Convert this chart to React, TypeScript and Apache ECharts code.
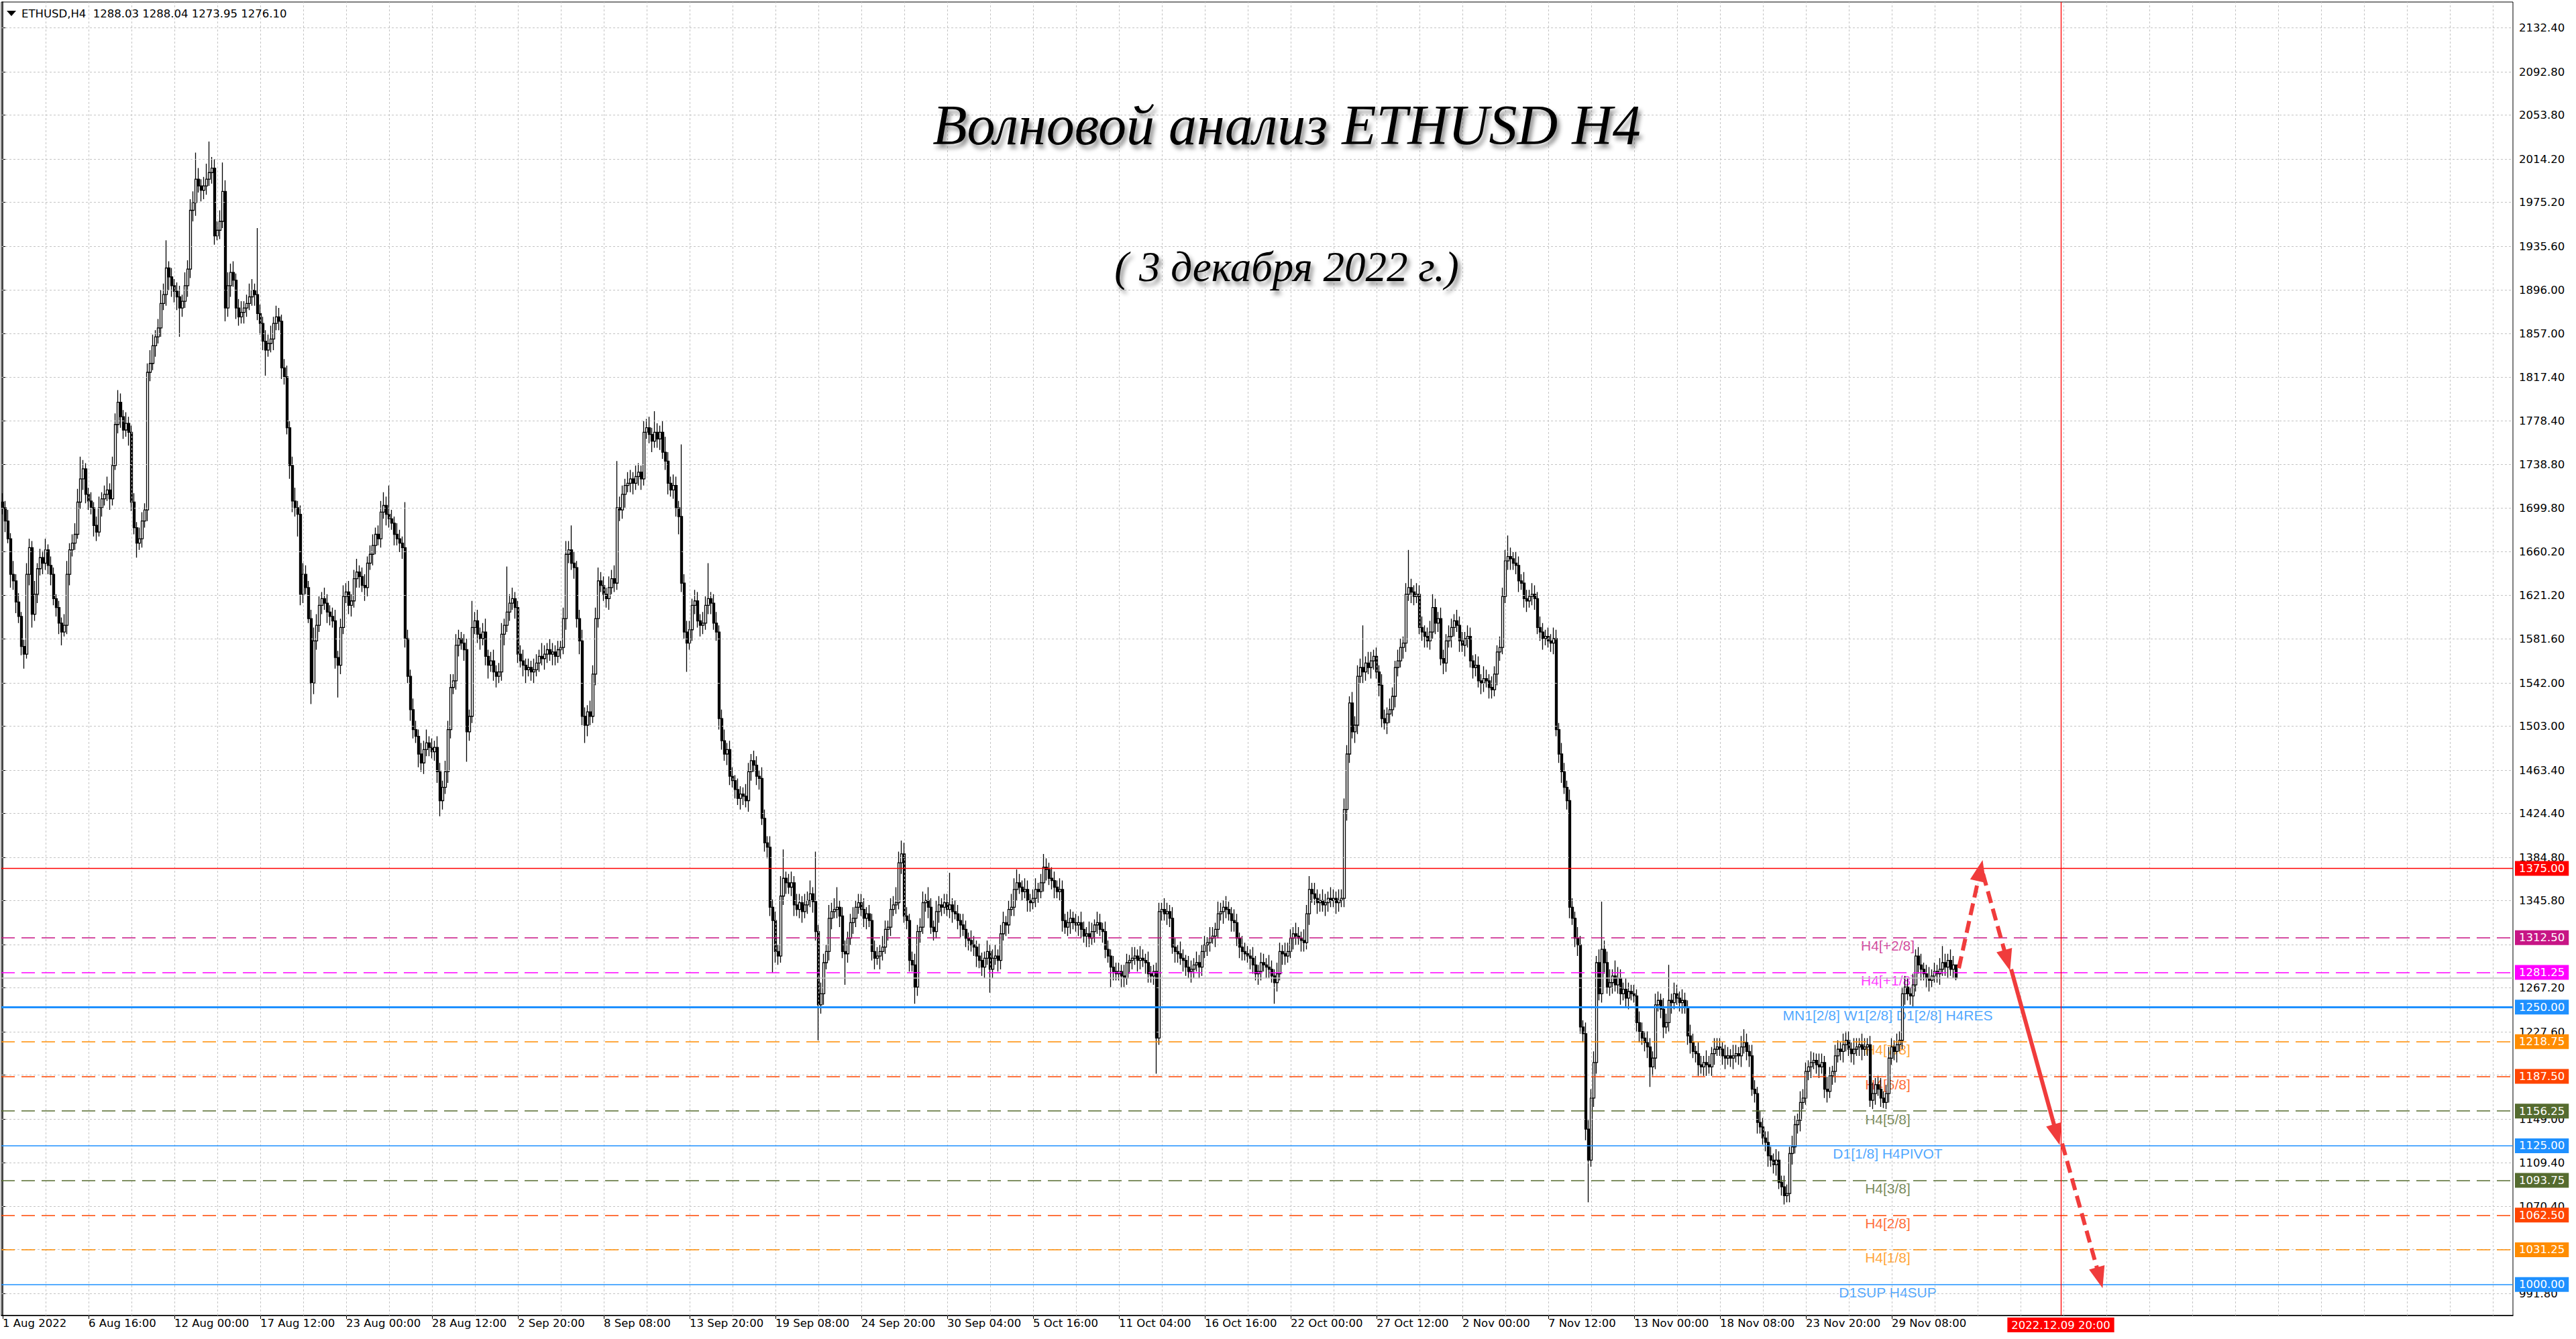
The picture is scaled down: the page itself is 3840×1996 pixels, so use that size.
import React, { useEffect, useRef } from 'react';
import * as echarts from 'echarts';

// ---------- DATA ----------
// One H4 bar per entry, starting 1 Aug 2022 00:00. Open of a bar = previous close.
const firstOpen = 1705;
const closes: number[] = [
  1700,1688,1672,1640,1634,1615,1602,1575,1568,1640,1664,1604,1622,1645,1655,1650,
  1662,1648,1640,1618,1610,1596,1588,1594,1640,1662,1668,1676,1705,1726,1735,1712,
  1706,1700,1684,1678,1700,1708,1712,1716,1708,1738,1775,1795,1782,1770,1776,1768,
  1705,1682,1668,1672,1688,1698,1822,1830,1846,1854,1862,1884,1892,1916,1908,1900,
  1895,1890,1880,1886,1900,1915,1968,1975,1996,1990,1986,1990,1996,2002,2006,1945,
  1950,1958,1985,1880,1900,1912,1905,1880,1872,1876,1880,1884,1890,1896,1892,1875,
  1866,1850,1842,1848,1852,1866,1872,1868,1826,1818,1772,1738,1706,1700,1694,1622,
  1640,1628,1600,1542,1580,1594,1612,1618,1614,1606,1602,1598,1565,1558,1592,1620,
  1624,1612,1616,1636,1642,1638,1630,1628,1650,1658,1666,1676,1672,1696,1702,1694,
  1690,1686,1676,1672,1668,1664,1582,1548,1518,1500,1494,1478,1470,1482,1488,1484,
  1480,1484,1462,1436,1448,1462,1500,1538,1544,1576,1582,1578,1572,1498,1512,1592,
  1598,1586,1582,1588,1566,1558,1562,1552,1548,1552,1586,1594,1606,1614,1618,1610,
  1568,1562,1558,1554,1556,1552,1554,1560,1566,1564,1568,1572,1568,1570,1566,1572,
  1574,1600,1658,1662,1650,1646,1600,1580,1512,1504,1516,1512,1550,1600,1634,1630,
  1622,1618,1628,1636,1632,1700,1698,1712,1720,1722,1726,1722,1728,1732,1726,1768,
  1772,1766,1760,1768,1762,1768,1750,1742,1722,1716,1720,1700,1692,1632,1588,1578,
  1590,1612,1616,1598,1594,1596,1612,1618,1614,1596,1588,1510,1490,1478,1482,1458,
  1454,1446,1438,1442,1440,1436,1462,1472,1468,1458,1456,1420,1398,1394,1340,1328,
  1300,1296,1350,1366,1362,1358,1362,1342,1338,1344,1336,1342,1346,1352,1345,1318,
  1252,1262,1290,1300,1330,1336,1338,1340,1332,1300,1298,1312,1326,1330,1340,1344,
  1338,1330,1334,1328,1300,1294,1296,1300,1304,1320,1322,1338,1342,1344,1380,1388,
  1332,1328,1292,1288,1268,1318,1322,1344,1346,1340,1322,1318,1336,1342,1340,1344,
  1338,1342,1336,1334,1328,1324,1320,1312,1310,1306,1304,1296,1292,1286,1294,1300,
  1284,1294,1296,1292,1316,1326,1324,1338,1340,1356,1362,1358,1354,1356,1346,1344,
  1348,1356,1354,1362,1376,1374,1366,1364,1358,1354,1356,1328,1322,1326,1330,1326,
  1324,1326,1320,1314,1316,1312,1318,1324,1326,1320,1318,1302,1296,1286,1282,1280,
  1282,1278,1276,1290,1292,1294,1296,1292,1294,1292,1290,1280,1278,1282,1222,1336,
  1338,1334,1336,1330,1304,1300,1298,1294,1292,1286,1282,1284,1288,1290,1286,1300,
  1306,1308,1312,1314,1320,1334,1336,1340,1338,1334,1328,1326,1312,1304,1300,1298,
  1296,1294,1288,1280,1282,1290,1288,1286,1284,1278,1272,1280,1300,1298,1296,1300,
  1312,1316,1314,1312,1310,1308,1334,1356,1352,1348,1344,1346,1342,1344,1348,1346,
  1348,1344,1346,1348,1428,1478,1524,1498,1504,1548,1556,1552,1560,1556,1562,1566,
  1552,1540,1510,1506,1514,1518,1530,1556,1562,1574,1578,1622,1628,1624,1620,1622,
  1592,1588,1584,1580,1588,1610,1596,1600,1564,1560,1580,1584,1592,1598,1594,1580,
  1576,1582,1584,1562,1556,1558,1544,1542,1546,1544,1538,1536,1550,1570,1574,1620,
  1652,1656,1654,1650,1648,1634,1632,1618,1616,1620,1622,1618,1592,1588,1582,1584,
  1580,1578,1582,1500,1478,1462,1448,1436,1340,1330,1312,1306,1232,1226,1140,1112,
  1168,1200,1290,1262,1302,1290,1268,1272,1278,1270,1276,1262,1266,1258,1264,1262,
  1260,1236,1228,1222,1218,1214,1196,1204,1252,1256,1248,1232,1236,1256,1254,1262,
  1258,1254,1256,1250,1224,1218,1210,1208,1198,1196,1200,1198,1196,1208,1212,1214,
  1212,1206,1204,1206,1204,1206,1208,1206,1214,1218,1210,1206,1176,1172,1146,1142,
  1132,1128,1116,1112,1108,1112,1092,1088,1080,1082,1118,1124,1144,1148,1164,1168,
  1192,1196,1200,1202,1198,1196,1200,1176,1174,1188,1192,1206,1212,1210,1216,1220,
  1212,1208,1212,1214,1216,1212,1214,1216,1166,1172,1180,1176,1168,1164,1172,1204,
  1214,1210,1216,1220,1262,1268,1262,1260,1270,1296,1288,1284,1280,1276,1274,1278,
  1282,1280,1284,1290,1286,1292,1284,1288,1276.1,
];
// distance of the high above the body top
const wickUp: number[] = [
  8,6,10,5,12,6,8,4,6,10,8,6,12,5,8,6,
  10,5,8,6,4,6,5,10,12,6,8,10,12,20,8,5,
  6,8,5,8,10,6,8,12,6,8,10,11,8,6,10,6,
  6,8,5,10,8,6,8,12,10,6,8,12,10,25,6,8,
  6,8,10,6,12,8,10,10,24,10,6,8,14,28,10,8,
  8,10,26,10,12,8,10,6,8,10,6,8,12,10,6,60,
  8,6,10,8,12,6,10,8,6,8,10,6,8,12,6,8,
  10,8,6,8,12,10,8,6,10,8,6,8,10,6,8,10,
  8,10,6,8,12,6,8,10,6,8,10,6,8,10,12,8,
  26,8,6,10,8,6,41,8,6,10,8,6,10,8,12,6,
  8,6,10,8,6,10,8,12,6,10,8,6,8,10,6,24,
  8,10,6,8,12,6,8,10,6,8,10,6,41,8,10,6,
  6,8,10,6,8,6,10,8,6,12,8,6,10,8,6,8,
  6,10,12,8,22,10,6,8,10,8,6,10,8,10,12,8,
  8,6,10,8,12,42,10,8,6,10,8,6,10,8,6,10,
  8,10,6,19,8,6,10,14,8,6,10,8,6,65,8,10,
  8,6,10,8,6,10,8,32,6,8,10,6,8,10,6,8,
  8,5,10,7,6,11,8,6,9,8,5,10,8,6,10,7,
  8,6,18,26,6,8,10,6,10,8,6,10,8,12,6,45,
  6,10,8,6,12,8,10,18,6,8,10,6,8,10,6,8,
  8,10,6,8,6,10,8,6,10,8,6,10,8,14,10,12,
  10,8,6,8,10,6,8,10,6,12,8,6,10,8,6,8,
  8,29,6,10,8,6,10,8,5,9,8,6,11,7,6,10,
  6,8,10,6,8,10,6,8,12,10,12,8,6,10,8,6,
  8,10,6,8,12,8,6,10,8,6,10,8,6,10,8,6,
  8,6,10,7,6,11,8,5,10,8,6,9,8,6,10,8,
  8,6,10,8,5,10,8,6,11,8,6,10,7,6,8,8,
  6,10,8,6,10,8,6,11,8,5,10,8,6,10,7,6,
  8,5,10,8,6,11,8,6,10,7,6,10,8,5,10,8,
  7,6,10,8,6,9,8,6,11,8,6,10,8,6,10,8,
  8,6,10,8,6,10,8,12,6,10,8,6,10,8,6,10,
  8,6,10,8,10,8,6,10,8,10,8,38,6,10,8,6,
  8,6,10,8,6,10,8,6,10,8,6,10,34,8,6,10,
  8,10,6,8,10,12,8,6,10,8,6,10,8,6,10,8,
  8,6,10,8,5,10,8,6,11,8,6,10,7,6,10,8,
  10,19,8,6,10,8,6,10,8,6,10,8,6,10,8,6,
  8,6,10,8,6,10,8,6,10,8,6,10,8,6,10,8,
  8,10,6,12,43,8,10,12,6,14,10,8,6,10,8,6,
  8,6,10,8,6,10,8,6,10,8,6,10,8,32,6,10,
  8,6,10,7,6,10,8,5,10,8,6,11,8,6,10,8,
  8,6,10,8,6,10,8,6,10,12,8,6,10,8,6,10,
  8,6,10,8,6,10,8,6,10,8,6,10,8,6,10,8,
  8,6,10,7,6,10,8,6,11,8,5,10,8,6,10,8,
  8,6,10,8,6,10,8,6,8,10,6,8,10,6,8,10,
  8,6,10,8,6,10,8,6,10,6,8,10,6,8,10,6,
  8,6,10,15,8,6,10,8,0,
];
// distance of the low below the body bottom
const wickDown: number[] = [
  6,10,4,12,8,10,6,8,13,4,10,12,6,8,6,10,
  6,8,10,6,8,10,12,4,8,10,6,6,4,6,10,8,
  8,6,10,8,4,8,6,6,10,6,4,8,10,8,6,12,
  8,6,13,6,8,6,10,8,6,10,6,8,6,10,12,10,
  10,12,26,8,6,10,8,10,12,6,10,8,8,6,10,8,
  4,8,6,12,8,10,6,10,8,6,10,8,6,8,10,6,
  10,8,23,6,8,10,6,8,10,7,6,12,10,8,20,10,
  8,6,4,19,10,8,6,8,6,10,8,6,10,29,8,6,
  6,8,10,6,8,10,6,12,8,6,10,8,6,8,6,10,
  8,6,10,6,8,10,8,6,10,8,6,12,8,10,6,8,
  6,8,10,14,8,6,10,8,6,8,10,6,10,27,8,6,
  6,8,10,6,8,12,6,8,10,6,8,10,6,8,6,10,
  8,6,10,12,6,8,10,6,8,6,10,8,6,10,8,6,
  8,6,10,8,6,10,8,12,8,16,10,8,6,10,8,6,
  6,8,10,6,8,6,10,8,12,6,8,10,6,8,10,6,
  6,8,10,6,8,10,6,8,10,6,8,8,16,8,6,26,
  6,10,8,6,10,8,6,8,10,6,8,10,8,6,10,8,
  6,8,6,10,8,6,10,8,6,8,10,6,8,10,8,47,
  10,8,6,8,10,6,8,10,6,8,10,6,8,6,10,8,
  32,8,10,6,8,10,6,8,10,6,28,8,6,10,8,6,
  6,8,10,6,8,10,6,12,8,6,10,8,6,8,6,10,
  6,8,10,6,15,8,10,6,8,10,6,8,6,10,8,6,
  6,8,10,5,8,11,6,8,9,6,8,10,7,8,10,6,
  21,8,6,10,8,6,10,8,6,8,10,6,8,6,10,8,
  6,8,10,6,8,10,6,8,10,6,8,10,6,8,10,6,
  6,10,8,6,10,8,6,10,8,6,10,8,6,18,8,6,
  6,10,8,6,10,8,6,10,8,6,10,8,6,8,32,6,
  8,6,10,8,6,10,8,6,10,8,6,10,8,6,10,8,
  6,10,8,5,10,8,6,11,8,6,10,8,7,10,8,6,
  6,10,8,6,10,8,6,10,8,6,19,8,6,10,8,6,
  6,10,8,6,10,8,6,10,8,6,10,8,6,10,8,6,
  6,10,8,6,8,10,8,6,10,8,6,10,8,6,10,8,
  6,10,8,6,10,8,6,10,8,6,10,8,6,10,8,6,
  6,8,10,6,8,6,10,8,6,10,8,6,10,8,6,10,
  6,10,8,6,10,8,6,10,8,6,10,8,6,10,8,6,
  6,8,10,6,8,10,6,8,10,6,8,10,6,8,10,6,
  6,8,10,6,8,10,6,8,10,6,8,10,6,8,10,38,
  6,8,10,6,8,10,6,8,10,6,8,10,6,8,10,6,
  6,8,10,6,8,10,18,8,10,6,8,10,6,8,10,6,
  6,8,10,6,8,10,6,8,10,6,8,10,6,8,10,6,
  6,8,10,6,8,10,6,8,10,6,8,10,6,8,10,6,
  6,8,10,6,8,10,6,8,8,6,8,10,6,8,10,6,
  6,8,10,6,8,10,6,8,10,6,8,10,6,8,10,6,
  6,8,10,6,8,10,6,8,6,8,10,6,8,5,6,8,
  6,8,10,6,8,10,6,8,10,6,8,10,6,8,10,6,
  6,8,10,6,8,10,6,8,2,
];

const timeLabels = [
  '1 Aug 2022', '6 Aug 16:00', '12 Aug 00:00', '17 Aug 12:00', '23 Aug 00:00', '28 Aug 12:00',
  '2 Sep 20:00', '8 Sep 08:00', '13 Sep 20:00', '19 Sep 08:00', '24 Sep 20:00', '30 Sep 04:00',
  '5 Oct 16:00', '11 Oct 04:00', '16 Oct 16:00', '22 Oct 00:00', '27 Oct 12:00', '2 Nov 00:00',
  '7 Nov 12:00', '13 Nov 00:00', '18 Nov 08:00', '23 Nov 20:00', '29 Nov 08:00',
];
const barsPerLabel = 32;

const priceTicks = [
  2132.4, 2092.8, 2053.8, 2014.2, 1975.2, 1935.6, 1896.0, 1857.0, 1817.4, 1778.4,
  1738.8, 1699.8, 1660.2, 1621.2, 1581.6, 1542.0, 1503.0, 1463.4, 1424.4, 1384.8,
  1345.8, 1306.2, 1267.2, 1227.6, 1188.6, 1149.0, 1109.4, 1070.4, 1031.4, 991.8,
];

const levelValues = [1312.5, 1281.25, 1250, 1218.75, 1187.5, 1156.25, 1125, 1093.75, 1062.5, 1031.25, 1000];
const levelNames = [
  'H4[+2/8]', 'H4[+1/8]', 'MN1[2/8] W1[2/8] D1[2/8] H4RES', 'H4[7/8]', 'H4[6/8]', 'H4[5/8]',
  'D1[1/8] H4PIVOT', 'H4[3/8]', 'H4[2/8]', 'H4[1/8]', 'D1SUP H4SUP',
];
const levelColors = ['#C71585', '#FF00FF', '#1E90FF', '#FF8C00', '#FF4500', '#556B2F', '#1E90FF', '#556B2F', '#FF4500', '#FF8C00', '#1E90FF'];
const levelSolid = [false, false, true, false, false, false, true, false, false, false, true];

const resistanceLevel = 1375;
const bidPrice = 1276.1;
const markerBar = 767;
const markerTimeLabel = '2022.12.09 20:00';

// forecast arrows: [bar, price] -> [bar, price]
const arrowFrom = [[729, 1285], [738, 1370], [748.5, 1284], [767.5, 1127]];
const arrowTo = [[737, 1373], [747, 1292], [765.5, 1135], [781.5, 1006]];
const arrowDashed = [true, true, false, true];

const headerText = 'ETHUSD,H4  1288.03 1288.04 1273.95 1276.10';
const titleText = 'Волновой анализ ETHUSD H4';
const subtitleText = '( 3 декабря 2022 г.)';

// ---------- CHART ----------
const FONT = 'DejaVu Sans';
const X_MIN = -0.5;
const X_MAX = 935.5;
const Y_MIN = 972;
const Y_MAX = 2155.7;
const GRID_STEP = 16;
const LEVEL_LABEL_BAR = 702.5;
const COVER_DIST = 7; // axis price labels hidden under a level box

function buildOption() {
  const candles = closes.map((c, i) => {
    const o = i === 0 ? firstOpen : closes[i - 1];
    return [i, o, c, Math.min(o, c) - wickDown[i], Math.max(o, c) + wickUp[i]];
  });
  const labelBars = timeLabels.map((_, k) => k * barsPerLabel);
  const vGrid: number[] = [];
  for (let b = GRID_STEP; b < X_MAX; b += GRID_STEP) vGrid.push(b);
  const boxValues = [resistanceLevel, ...levelValues];
  const isCovered = (v: number) => boxValues.some((b) => Math.abs(b - v) < COVER_DIST);

  const boxLabel = (bg: string) => ({
    show: true,
    position: 'end',
    distance: 3,
    formatter: (p: any) => Number(p.value).toFixed(2),
    backgroundColor: bg,
    color: '#ffffff',
    fontFamily: FONT,
    fontSize: 16.5,
    lineHeight: 17,
    padding: [3, 6, 2, 6],
  });

  const levelLines: any[] = [
    {
      yAxis: bidPrice,
      lineStyle: { color: '#C0C0C0', width: 1.5, type: 'solid' },
      label: { show: false },
    },
    {
      yAxis: resistanceLevel,
      lineStyle: { color: '#FF0000', width: 1.3, type: 'solid' },
      label: boxLabel('#FF0000'),
    },
  ];
  levelValues.forEach((v, i) => {
    levelLines.push({
      yAxis: v,
      lineStyle: {
        color: levelColors[i],
        width: i === 2 ? 3 : 1.5,
        type: levelSolid[i] ? 'solid' : [20, 10],
      },
      label: boxLabel(levelColors[i]),
    });
  });
  levelLines.push({
    xAxis: markerBar,
    lineStyle: { color: '#FF0000', width: 1.3, type: 'solid' },
    label: {
      show: true,
      position: 'start',
      distance: 3,
      formatter: markerTimeLabel,
      backgroundColor: '#FF0000',
      color: '#ffffff',
      fontFamily: FONT,
      fontSize: 16.5,
      lineHeight: 17,
      padding: [3, 6, 2, 6],
    },
  });

  const arrowLines = arrowFrom.map((f, i) => [
    {
      coord: f,
      lineStyle: {
        color: '#F03C3C',
        width: 6,
        type: arrowDashed[i] ? [18, 9] : 'solid',
      },
    },
    { coord: arrowTo[i] },
  ]);

  const dummy = [[-100, -100]];

  return {
    animation: false,
    backgroundColor: '#ffffff',
    textStyle: { fontFamily: FONT },
    grid: {
      left: 2, right: 94, top: 3, bottom: 35,
      show: true, borderColor: '#000000', borderWidth: 1, backgroundColor: '#ffffff',
    },
    xAxis: {
      type: 'value',
      min: X_MIN,
      max: X_MAX,
      axisLine: { show: true, lineStyle: { color: '#000000', width: 1.5 } },
      axisTick: { show: true, length: 5, customValues: labelBars, lineStyle: { color: '#000000' } },
      axisLabel: {
        show: true,
        customValues: labelBars,
        formatter: (v: number) => timeLabels[Math.round(v / barsPerLabel)] ?? '',
        align: 'left',
        margin: 3,
        color: '#000000',
        fontFamily: FONT,
        fontSize: 16.5,
      },
      splitLine: { show: false },
    },
    yAxis: {
      type: 'value',
      position: 'right',
      min: Y_MIN,
      max: Y_MAX,
      axisLine: { show: true, lineStyle: { color: '#000000', width: 1.5 } },
      axisTick: { show: true, length: 4, customValues: priceTicks, lineStyle: { color: '#000000' } },
      axisLabel: {
        show: true,
        customValues: priceTicks.filter((v) => !isCovered(v)),
        formatter: (v: number) => v.toFixed(2),
        margin: 9,
        color: '#000000',
        fontFamily: FONT,
        fontSize: 16.5,
      },
      splitLine: { show: false },
    },
    series: [
      {
        name: 'grid',
        type: 'line',
        z: 1,
        data: dummy,
        showSymbol: false,
        silent: true,
        lineStyle: { opacity: 0 },
        markLine: {
          silent: true,
          symbol: ['none', 'none'],
          label: { show: false },
          lineStyle: { color: '#C4C4C4', width: 1, type: [3, 3] },
          emphasis: { disabled: true },
          data: [
            ...priceTicks.map((v) => ({ yAxis: v })),
            ...vGrid.map((b) => ({ xAxis: b })),
          ],
        },
      },
      {
        name: 'levels',
        type: 'line',
        z: 2,
        data: dummy,
        showSymbol: false,
        silent: true,
        lineStyle: { opacity: 0 },
        markLine: {
          silent: true,
          symbol: ['none', 'none'],
          emphasis: { disabled: true },
          data: levelLines,
        },
      },
      {
        name: 'levelNames',
        type: 'scatter',
        z: 3,
        silent: true,
        symbolSize: 1,
        itemStyle: { color: 'rgba(0,0,0,0)' },
        data: levelValues.map((v, i) => ({
          name: levelNames[i],
          value: [LEVEL_LABEL_BAR, v],
          label: { color: levelColors[i] },
        })),
        label: {
          show: true,
          position: 'bottom',
          distance: 1,
          formatter: '{b}',
          fontFamily: 'Liberation Sans',
          fontSize: 21,
        },
      },
      {
        name: 'ETHUSD',
        type: 'candlestick',
        z: 4,
        large: false,
        silent: true,
        barWidth: 3,
        encode: { x: 0, y: [1, 2, 3, 4] },
        data: candles,
        itemStyle: {
          color: '#ffffff',
          color0: '#000000',
          borderColor: '#000000',
          borderColor0: '#000000',
          borderWidth: 1.3,
        },
      },
      {
        name: 'forecast',
        type: 'line',
        z: 5,
        data: dummy,
        showSymbol: false,
        silent: true,
        lineStyle: { opacity: 0 },
        markLine: {
          silent: true,
          symbol: ['none', 'triangle'],
          symbolSize: [24, 32],
          label: { show: false },
          emphasis: { disabled: true },
          itemStyle: { color: '#F03C3C' },
          data: arrowLines,
        },
      },
    ],
    graphic: [
      {
        type: 'polygon',
        z: 10,
        shape: { points: [[10, 16], [24, 16], [17, 24]] },
        style: { fill: '#000000' },
      },
      {
        type: 'text',
        z: 10,
        x: 32,
        y: 20,
        style: {
          text: headerText,
          fill: '#000000',
          font: '16.5px "DejaVu Sans"',
          verticalAlign: 'middle',
          align: 'left',
        },
      },
      {
        type: 'text',
        z: 10,
        x: 1918,
        y: 186,
        style: {
          text: titleText,
          fill: '#000000',
          font: 'italic 84px "Liberation Serif"',
          align: 'center',
          verticalAlign: 'middle',
          textShadowColor: 'rgba(0,0,0,0.45)',
          textShadowBlur: 6,
          textShadowOffsetX: 4,
          textShadowOffsetY: 6,
        },
      },
      {
        type: 'text',
        z: 10,
        x: 1918,
        y: 398,
        style: {
          text: subtitleText,
          fill: '#000000',
          font: 'italic 63px "Liberation Serif"',
          align: 'center',
          verticalAlign: 'middle',
          textShadowColor: 'rgba(0,0,0,0.45)',
          textShadowBlur: 6,
          textShadowOffsetX: 4,
          textShadowOffsetY: 6,
        },
      },
    ],
  };
}

export default function App() {
  const ref = useRef<HTMLDivElement>(null);
  useEffect(() => {
    document.body.style.margin = '0';
    if (!ref.current) return;
    const chart = echarts.init(ref.current, undefined, { renderer: 'svg' });
    chart.setOption(buildOption() as any);
    return () => chart.dispose();
  }, []);
  return <div ref={ref} style={{ width: 3840, height: 1996, background: '#ffffff' }} />;
}
